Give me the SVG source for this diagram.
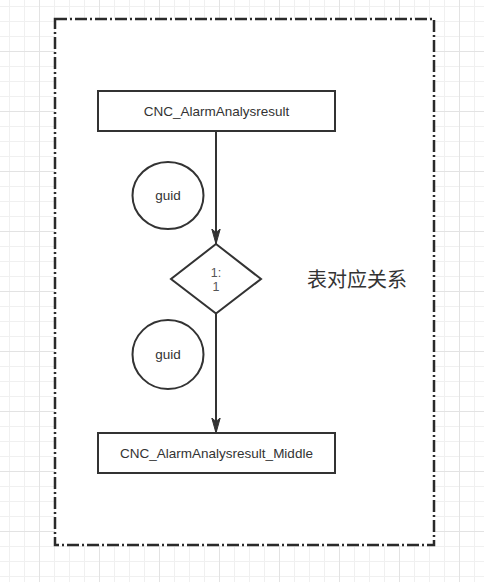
<svg xmlns="http://www.w3.org/2000/svg" width="484" height="582" viewBox="0 0 484 582">
  <defs>
    <pattern id="grid" patternUnits="userSpaceOnUse" x="39" y="51" width="60" height="60">
      <path d="M15.5 0V60M30.5 0V60M45.5 0V60M0 15.5H60M0 30.5H60M0 45.5H60" stroke="#f0f0f0" stroke-width="1" fill="none"/>
      <path d="M0.5 0V60M0 0.5H60" stroke="#e3e3e3" stroke-width="1" fill="none"/>
    </pattern>
    <marker id="arrow" markerUnits="userSpaceOnUse" markerWidth="16" markerHeight="10" viewBox="0 0 16 10" refX="15" refY="5" orient="auto">
      <path d="M15 5 L0 0.8 L3.5 5 L0 9.2 Z" fill="#333333" stroke="#333333" stroke-width="1" stroke-linejoin="miter"/>
    </marker>
    <style>
      .box { fill: #ffffff; stroke: #333333; stroke-width: 2; }
      .shape { fill: #ffffff; stroke: #333333; stroke-width: 2; }
      .lbl { font-family: "Liberation Sans", Arial, sans-serif; font-size: 13.5px; fill: #333333; text-anchor: middle; dominant-baseline: central; }
      .num { font-family: "Liberation Sans", Arial, sans-serif; font-size: 12.5px; fill: #555555; text-anchor: middle; dominant-baseline: central; }
      .cjk { font-family: "Liberation Sans", "Noto Sans CJK SC", sans-serif; font-size: 20px; fill: #333333; dominant-baseline: central; }
      .edge { fill: none; stroke: #333333; stroke-width: 2; marker-end: url(#arrow); }
    </style>
  </defs>

  <rect x="0" y="0" width="484" height="582" fill="#ffffff"/>
  <rect x="0" y="0" width="484" height="582" fill="url(#grid)"/>

  <g id="container">
    <rect x="55" y="19" width="379" height="526" fill="#ffffff" stroke="#2a2a2a" stroke-width="2.5" stroke-dasharray="12 3 2 3"/>
  </g>

  <g id="connectors">
    <path class="edge" d="M216 131 V244"/>
    <path class="edge" d="M216 313.5 V433"/>
  </g>

  <g id="node-top">
    <rect class="box" x="98" y="91" width="237" height="40"/>
    <text class="lbl" x="216.5" y="111.5">CNC_AlarmAnalysresult</text>
  </g>

  <g id="guid-1">
    <ellipse class="shape" cx="168" cy="195.5" rx="35.5" ry="33.5"/>
    <text class="lbl" x="168" y="195.5">guid</text>
  </g>

  <g id="relation">
    <polygon class="shape" points="216,244 261,279 216,313.5 171,279"/>
    <text class="num" x="216" y="272.5">1:</text>
    <text class="num" x="216" y="287">1</text>
  </g>

  <g id="label-relation">
    <text class="cjk" x="307" y="280">表对应关系</text>
  </g>

  <g id="guid-2">
    <ellipse class="shape" cx="168" cy="354.5" rx="35.5" ry="34.5"/>
    <text class="lbl" x="168" y="354.5">guid</text>
  </g>

  <g id="node-bottom">
    <rect class="box" x="98" y="433" width="237" height="40"/>
    <text class="lbl" x="216.5" y="453">CNC_AlarmAnalysresult_Middle</text>
  </g>
</svg>
